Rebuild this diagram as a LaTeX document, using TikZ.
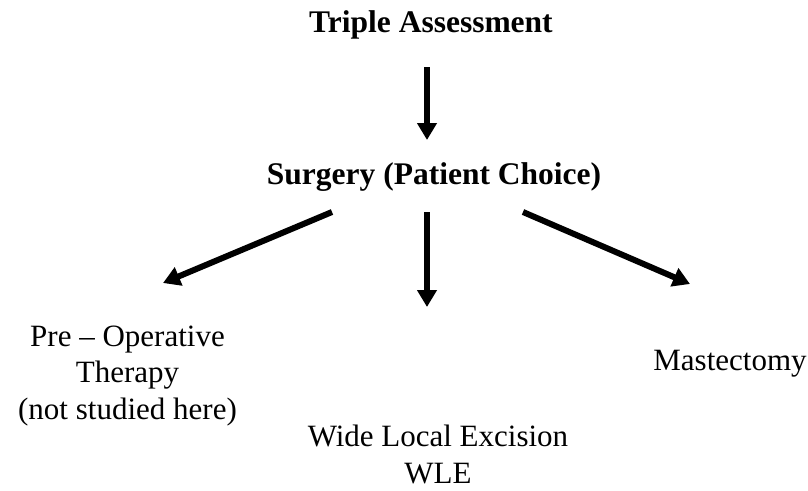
\documentclass[tikz,border=0pt]{standalone}
\usepackage{fontspec}
\setmainfont{Liberation Serif}
\usetikzlibrary{arrows.meta}
\begin{document}
\begin{tikzpicture}[x=1pt,y=-1pt,
  lbl/.style={inner sep=0pt,align=center,anchor=base,font=\fontsize{31}{36.5}\selectfont},
  hdr/.style={inner sep=0pt,anchor=base,font=\fontsize{31.5}{36}\selectfont\bfseries},
  arr/.style={line width=6pt,-{Triangle[length=17pt,width=19pt]}}]
\useasboundingbox (0,0) rectangle (808,490);
\node[hdr] (ta) at (431,32) {Triple Assessment};
\node[hdr] (sg) at (434,184) {Surgery (Patient Choice)};
\node[lbl] (pre) at (127.5,419) {Pre – Operative\\Therapy\\(not studied here)};
\node[lbl] (wle) at (438,483) {Wide Local Excision\\WLE};
\node[lbl] (mas) at (730,370) {Mastectomy};
\coordinate (a1s) at (427,67);
\coordinate (a1e) at (427,140);
\coordinate (l1s) at (332,212);
\coordinate (l1e) at (163,283);
\coordinate (m1s) at (427,212);
\coordinate (m1e) at (427,307);
\coordinate (r1s) at (523,212);
\coordinate (r1e) at (690,284);
\draw[arr] (a1s) -- (a1e);
\draw[arr] (l1s) -- (l1e);
\draw[arr] (m1s) -- (m1e);
\draw[arr] (r1s) -- (r1e);
\end{tikzpicture}
\end{document}
